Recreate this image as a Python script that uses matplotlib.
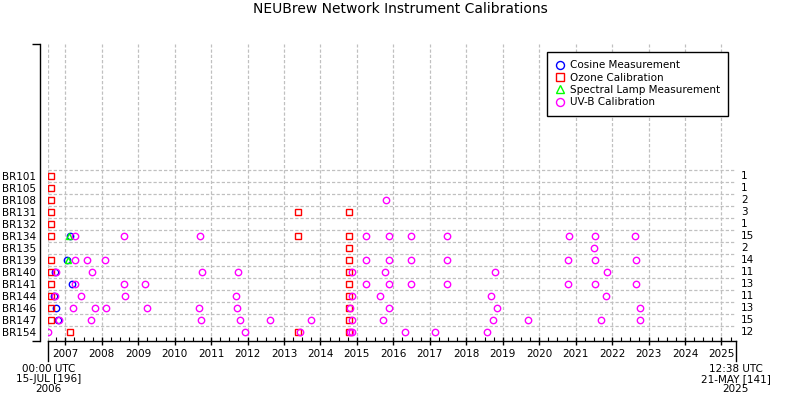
import numpy as np
import matplotlib
matplotlib.use("Agg")
import matplotlib.pyplot as plt
import matplotlib.transforms as mtransforms

# instruments, top to bottom, and counts printed at the right
instruments = ["BR101", "BR105", "BR108", "BR131", "BR132", "BR134", "BR135",
               "BR139", "BR140", "BR141", "BR144", "BR146", "BR147", "BR154"]
counts = [1, 1, 2, 3, 1, 15, 2, 14, 11, 13, 11, 13, 15, 12]

# event dates in decimal years
cosine = {
    "BR134": [2007.121], "BR139": [2007.047], "BR140": [2006.726],
    "BR141": [2007.184], "BR144": [2006.691], "BR146": [2006.754],
    "BR147": [2006.809],
}
ozone = {
    "BR101": [2006.617], "BR105": [2006.617], "BR108": [2006.617],
    "BR131": [2006.617, 2013.392, 2014.791], "BR132": [2006.617],
    "BR134": [2006.617, 2013.392, 2014.791], "BR135": [2014.791],
    "BR139": [2006.617, 2014.791], "BR140": [2006.617, 2014.782],
    "BR141": [2006.617, 2014.791], "BR144": [2006.617, 2014.782],
    "BR146": [2006.617, 2014.782], "BR147": [2006.617, 2014.782],
    "BR154": [2007.138, 2013.375, 2014.782],
}
lamp = {"BR134": [2007.094], "BR139": [2007.066]}
uvb = {
    "BR108": [2015.806],
    "BR134": [2007.275, 2008.619, 2010.703, 2015.257, 2015.888, 2016.491,
              2017.479, 2020.826, 2021.539, 2022.636],
    "BR135": [2021.511],
    "BR139": [2007.275, 2007.604, 2008.098, 2015.257, 2015.888, 2016.491,
              2017.479, 2020.798, 2021.539, 2022.663],
    "BR140": [2006.754, 2007.741, 2010.758, 2011.746, 2014.878, 2015.778,
              2018.796, 2021.868],
    "BR141": [2007.275, 2008.619, 2009.195, 2015.257, 2015.888, 2016.491,
              2017.479, 2020.798, 2021.539, 2022.663],
    "BR144": [2006.718, 2007.440, 2008.646, 2011.691, 2014.878, 2015.641,
              2018.686, 2021.840],
    "BR146": [2007.220, 2007.823, 2008.125, 2009.250, 2010.676, 2011.718,
              2014.818, 2015.888, 2018.851, 2022.773],
    "BR147": [2006.836, 2007.714, 2010.731, 2011.801, 2012.624, 2013.748,
              2014.856, 2015.723, 2018.741, 2019.701, 2021.703, 2022.773],
    "BR154": [2006.534, 2011.938, 2013.425, 2014.818, 2014.856, 2016.327,
              2017.150, 2018.576],
}

t_start = 2006.5342   # 15-JUL-2006 00:00
t_end = 2025.3850     # 21-MAY-2025 12:38
years = list(range(2007, 2026))
start_label = "00:00 UTC\n15-JUL [196]\n2006"
end_label = "12:38 UTC\n21-MAY [141]\n2025"

FS = 7.5
plt.rcParams['font.family'] = 'DejaVu Sans'

fig = plt.figure(figsize=(8, 4), dpi=100)
ax = fig.add_axes([48.3/800, 59/400, 687.2/800, 297/400])

nrow = len(instruments)
row_y = {name: nrow - i for i, name in enumerate(instruments)}

ax.set_xlim(t_start, t_end)
ax.set_ylim(0.25, 25)

# grid
grid_kw = dict(color='#c0c0c0', lw=0.9, ls=(0, (2.6, 1.6)), zorder=0)
for x in [t_start] + years:
    ax.axvline(x, **grid_kw)
for name in instruments:
    ax.axhline(row_y[name] + 0.5, **grid_kw)

ms = 4.6
series = [
    (cosine, dict(marker='o', mec='blue'), 'Cosine Measurement'),
    (ozone, dict(marker='s', mec='red'), 'Ozone Calibration'),
    (lamp, dict(marker='^', mec='#00ff00'), 'Spectral Lamp Measurement'),
    (uvb, dict(marker='o', mec='magenta'), 'UV-B Calibration'),
]
handles = []
for data, style, label in series:
    xs, ys = [], []
    for name, dates in data.items():
        xs += dates
        ys += [row_y[name]] * len(dates)
    h, = ax.plot(xs, ys, ls='none', mfc='none', ms=ms, mew=1.0,
                 label=label, zorder=3, **style)
    handles.append(h)

# spines
for s in ['top', 'right']:
    ax.spines[s].set_visible(False)
ax.spines['left'].set_position(('outward', 5.76))
ax.spines['left'].set_linewidth(1.0)
ax.spines['bottom'].set_linewidth(1.0)

# y axis: end ticks and row labels
ax.set_yticks([0.25, 25])
ax.set_yticklabels(['', ''])
ax.tick_params(axis='y', which='major', direction='out', length=5.76, width=1.0)
ax.set_yticks([row_y[n] for n in instruments], minor=True)
ax.set_yticklabels(instruments, minor=True, fontsize=FS)
ax.tick_params(axis='y', which='minor', length=0, pad=3)

# x axis
ax.set_xticks(years)
ax.set_xticklabels([str(y) for y in years], fontsize=FS)
ax.set_xticks(np.arange(2006.75, 2025.3, 0.25), minor=True)
ax.tick_params(axis='x', which='major', direction='inout', length=6, width=1.0, pad=2.5)
ax.tick_params(axis='x', which='minor', direction='in', length=3, width=0.8)

trans = mtransforms.blended_transform_factory(ax.transData, ax.transAxes)
for x in (t_start, t_end):
    ax.plot([x, x], [0, -0.066], color='black', lw=1.0, transform=trans,
            clip_on=False)
ax.text(t_start, -0.077, start_label, transform=trans, ha='center', va='top',
        fontsize=FS, linespacing=1.0)
ax.text(t_end, -0.077, end_label, transform=trans, ha='center', va='top',
        fontsize=FS, linespacing=1.0)

# counts on the right
rtrans = mtransforms.blended_transform_factory(ax.transAxes, ax.transData)
for name, c in zip(instruments, counts):
    ax.text(1.008, row_y[name], str(c), transform=rtrans,
            ha='left', va='center', fontsize=FS)

leg = ax.legend(handles=handles, loc='upper left', bbox_to_anchor=(0.7257, 0.973),
                borderaxespad=0, fontsize=FS, frameon=True, fancybox=False,
                handlelength=0.9, handletextpad=0.5, labelspacing=0.22,
                borderpad=0.8, markerscale=1.25)
leg.get_frame().set_edgecolor('black')
leg.get_frame().set_linewidth(1.0)
leg.get_frame().set_alpha(1.0)

fig.text(0.5, 1 - 9/400, "NEUBrew Network Instrument Calibrations",
         ha='center', va='center', fontsize=10)

fig.savefig("out.png", dpi=100, facecolor='white')
